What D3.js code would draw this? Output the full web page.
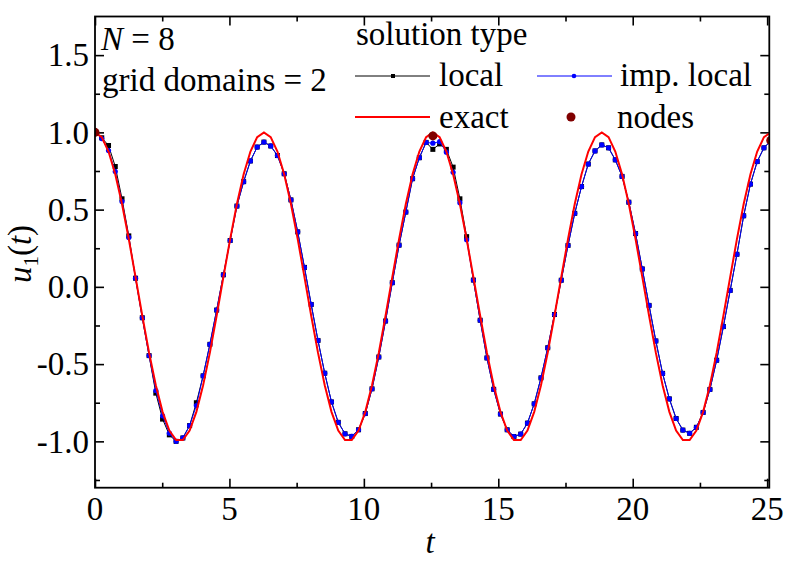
<!DOCTYPE html>
<html>
<head>
<meta charset="utf-8">
<script src="https://cdn.jsdelivr.net/npm/d3@7"></script>
<style>
  body { margin: 0; background: #fff; }
</style>
</head>
<body>
<script>
// sample points t_k, step 8*pi/100
let tVals = [0, 0.251, 0.503, 0.754, 1.005, 1.257, 1.508, 1.759, 2.011, 2.262,
  2.513, 2.765, 3.016, 3.267, 3.519, 3.770, 4.021, 4.273, 4.524, 4.775,
  5.027, 5.278, 5.529, 5.781, 6.032, 6.283, 6.535, 6.786, 7.037, 7.288,
  7.540, 7.791, 8.042, 8.294, 8.545, 8.796, 9.048, 9.299, 9.550, 9.802,
  10.053, 10.304, 10.556, 10.807, 11.058, 11.310, 11.561, 11.812, 12.064, 12.315,
  12.566, 12.818, 13.069, 13.320, 13.572, 13.823, 14.074, 14.326, 14.577, 14.828,
  15.080, 15.331, 15.582, 15.834, 16.085, 16.336, 16.588, 16.839, 17.090, 17.342,
  17.593, 17.844, 18.096, 18.347, 18.598, 18.850, 19.101, 19.352, 19.604, 19.855,
  20.106, 20.357, 20.609, 20.860, 21.111, 21.363, 21.614, 21.865, 22.117, 22.368,
  22.619, 22.871, 23.122, 23.373, 23.625, 23.876, 24.127, 24.379, 24.630, 24.881,
  25.133];

let exactVals = [1.000, 0.969, 0.876, 0.729, 0.536, 0.309, 0.063, -0.187, -0.426, -0.637,
  -0.809, -0.930, -0.992, -0.992, -0.930, -0.809, -0.637, -0.426, -0.187, 0.063,
  0.309, 0.536, 0.729, 0.876, 0.969, 1.000, 0.969, 0.876, 0.729, 0.536,
  0.309, 0.063, -0.187, -0.426, -0.637, -0.809, -0.930, -0.992, -0.992, -0.930,
  -0.809, -0.637, -0.426, -0.187, 0.063, 0.309, 0.536, 0.729, 0.876, 0.969,
  1.000, 0.969, 0.876, 0.729, 0.536, 0.309, 0.063, -0.187, -0.426, -0.637,
  -0.809, -0.930, -0.992, -0.992, -0.930, -0.809, -0.637, -0.426, -0.187, 0.063,
  0.309, 0.536, 0.729, 0.876, 0.969, 1.000, 0.969, 0.876, 0.729, 0.536,
  0.309, 0.063, -0.187, -0.426, -0.637, -0.809, -0.930, -0.992, -0.992, -0.930,
  -0.809, -0.637, -0.426, -0.187, 0.063, 0.309, 0.536, 0.729, 0.876, 0.969,
  1.000];

let localVals = [1.000, 0.965, 0.915, 0.779, 0.570, 0.330, 0.056, -0.200, -0.445, -0.688,
  -0.856, -0.958, -1.000, -0.978, -0.898, -0.750, -0.576, -0.372, -0.150, 0.078,
  0.300, 0.523, 0.681, 0.815, 0.905, 0.937, 0.912, 0.850, 0.732, 0.563,
  0.356, 0.126, -0.114, -0.347, -0.559, -0.745, -0.877, -0.951, -0.968, -0.925,
  -0.820, -0.660, -0.454, -0.221, 0.027, 0.270, 0.484, 0.700, 0.836, 0.935,
  0.890, 0.925, 0.890, 0.775, 0.570, 0.325, 0.044, -0.216, -0.460, -0.663,
  -0.823, -0.925, -0.969, -0.953, -0.882, -0.757, -0.589, -0.394, -0.179, 0.043,
  0.268, 0.476, 0.649, 0.795, 0.880, 0.919, 0.900, 0.822, 0.715, 0.548,
  0.345, 0.116, -0.120, -0.350, -0.560, -0.725, -0.852, -0.927, -0.948, -0.909,
  -0.813, -0.664, -0.475, -0.257, -0.023, 0.211, 0.460, 0.665, 0.811, 0.900,
  0.945];

let impLocalVals = [1.000, 0.960, 0.882, 0.746, 0.552, 0.320, 0.056, -0.200, -0.445, -0.671,
  -0.835, -0.947, -1.000, -0.978, -0.898, -0.768, -0.576, -0.372, -0.150, 0.078,
  0.300, 0.523, 0.681, 0.815, 0.905, 0.937, 0.912, 0.850, 0.732, 0.563,
  0.356, 0.126, -0.114, -0.347, -0.559, -0.745, -0.877, -0.951, -0.968, -0.925,
  -0.820, -0.660, -0.454, -0.221, 0.027, 0.270, 0.484, 0.700, 0.836, 0.935,
  0.930, 0.940, 0.872, 0.742, 0.545, 0.305, 0.044, -0.216, -0.460, -0.663,
  -0.823, -0.925, -0.969, -0.953, -0.882, -0.757, -0.589, -0.394, -0.179, 0.043,
  0.268, 0.476, 0.649, 0.795, 0.880, 0.919, 0.900, 0.822, 0.715, 0.548,
  0.345, 0.116, -0.120, -0.350, -0.560, -0.725, -0.852, -0.927, -0.948, -0.909,
  -0.813, -0.664, -0.475, -0.257, -0.023, 0.211, 0.460, 0.665, 0.811, 0.900,
  0.945];

let nodeT = [0, 12.566, 25.133];
let nodeVals = [1.000, 0.977, 0.947];

let xTickVals = [0, 5, 10, 15, 20, 25];
let xTickLabels = ["0", "5", "10", "15", "20", "25"];
let xMinorVals = [2.5, 7.5, 12.5, 17.5, 22.5];
let yTickVals = [-1.0, -0.5, 0.0, 0.5, 1.0, 1.5];
let yTickLabels = ["-1.0", "-0.5", "0.0", "0.5", "1.0", "1.5"];
let yMinorVals = [-1.25, -0.75, -0.25, 0.25, 0.75, 1.25];

let width = 793, height = 561;
let plotLeft = 95, plotRight = 769.3, plotTop = 16.5, plotBottom = 487.7;
let fontSize = 33;
let serif = "'Liberation Serif', 'DejaVu Serif', 'Times New Roman', Times, serif";

let svg = d3.select("body").append("svg")
  .attr("width", width)
  .attr("height", height)
  .attr("font-family", serif)
  .style("font-family", serif);

let x = d3.scaleLinear().domain([0, 25.08]).range([plotLeft, plotRight]);
let y = d3.scaleLinear().domain([-1.3, 1.75]).range([plotBottom, plotTop]);

svg.append("defs").append("clipPath")
  .attr("id", "plotClip")
  .append("rect")
  .attr("x", plotLeft).attr("y", plotTop)
  .attr("width", plotRight - plotLeft).attr("height", plotBottom - plotTop);

// axes, ticks pointing inward on all four sides
function drawAxis(axis, translate, vals, size) {
  svg.append("g")
    .attr("transform", translate)
    .call(axis.tickValues(vals).tickSize(size).tickFormat(""))
    .call(function(g) { g.select(".domain").remove(); })
    .selectAll("line")
    .attr("stroke", "#000")
    .attr("stroke-width", 1.6);
}

drawAxis(d3.axisTop(x), "translate(0," + plotBottom + ")", xTickVals, 9);
drawAxis(d3.axisTop(x), "translate(0," + plotBottom + ")", xMinorVals, 5);
drawAxis(d3.axisBottom(x), "translate(0," + plotTop + ")", xTickVals, 9);
drawAxis(d3.axisBottom(x), "translate(0," + plotTop + ")", xMinorVals, 5);
drawAxis(d3.axisRight(y), "translate(" + plotLeft + ",0)", yTickVals, 9);
drawAxis(d3.axisRight(y), "translate(" + plotLeft + ",0)", yMinorVals, 5);
drawAxis(d3.axisLeft(y), "translate(" + plotRight + ",0)", yTickVals, 9);
drawAxis(d3.axisLeft(y), "translate(" + plotRight + ",0)", yMinorVals, 5);

function addText(parent, px, py, str) {
  return parent.append("text")
    .attr("x", px).attr("y", py)
    .attr("font-family", serif)
    .attr("font-size", fontSize)
    .attr("fill", "#000")
    .text(str);
}

// tick labels
svg.append("g").selectAll("text")
  .data(xTickVals)
  .enter().append("text")
  .attr("x", function(d) { return x(d); })
  .attr("y", plotBottom + 32)
  .attr("text-anchor", "middle")
  .attr("font-family", serif)
  .attr("font-size", fontSize)
  .text(function(d, i) { return xTickLabels[i]; });

svg.append("g").selectAll("text")
  .data(yTickVals)
  .enter().append("text")
  .attr("x", plotLeft - 6)
  .attr("y", function(d) { return y(d); })
  .attr("dy", "0.34em")
  .attr("text-anchor", "end")
  .attr("font-family", serif)
  .attr("font-size", fontSize)
  .text(function(d, i) { return yTickLabels[i]; });

// axis titles
addText(svg, 430, 553, "t")
  .attr("text-anchor", "middle")
  .attr("font-style", "italic");

let yTitle = svg.append("text")
  .attr("transform", "translate(31,254) rotate(-90)")
  .attr("text-anchor", "middle")
  .attr("font-family", serif)
  .attr("font-size", fontSize);
yTitle.append("tspan").attr("font-style", "italic").text("u");
yTitle.append("tspan").attr("font-size", 21).attr("dy", 7).text("1");
yTitle.append("tspan").attr("dy", -7).text("(");
yTitle.append("tspan").attr("font-style", "italic").text("t");
yTitle.append("tspan").text(")");

// data
let plot = svg.append("g").attr("clip-path", "url(#plotClip)");

let line = d3.line()
  .x(function(d) { return x(d[0]); })
  .y(function(d) { return y(d[1]); });

let localPts = tVals.map(function(t, i) { return [t, localVals[i]]; });
let impPts = tVals.map(function(t, i) { return [t, impLocalVals[i]]; });
let exactPts = tVals.map(function(t, i) { return [t, exactVals[i]]; });
let nodePts = nodeT.map(function(t, i) { return [t, nodeVals[i]]; });

plot.append("path")
  .datum(localPts)
  .attr("d", line)
  .attr("fill", "none")
  .attr("stroke", "#000")
  .attr("stroke-width", 1);

plot.append("g").selectAll("rect")
  .data(localPts)
  .enter().append("rect")
  .attr("x", function(d) { return x(d[0]) - 2.5; })
  .attr("y", function(d) { return y(d[1]) - 2.5; })
  .attr("width", 5)
  .attr("height", 5)
  .attr("fill", "#000");

plot.append("path")
  .datum(impPts)
  .attr("d", line)
  .attr("fill", "none")
  .attr("stroke", "#0000ff")
  .attr("stroke-width", 1);

plot.append("g").selectAll("circle")
  .data(impPts)
  .enter().append("circle")
  .attr("cx", function(d) { return x(d[0]); })
  .attr("cy", function(d) { return y(d[1]); })
  .attr("r", 2.6)
  .attr("fill", "#0000ff");

plot.append("path")
  .datum(exactPts)
  .attr("d", line)
  .attr("fill", "none")
  .attr("stroke", "#ff0000")
  .attr("stroke-width", 2);

plot.append("g").selectAll("circle")
  .data(nodePts)
  .enter().append("circle")
  .attr("cx", function(d) { return x(d[0]); })
  .attr("cy", function(d) { return y(d[1]); })
  .attr("r", 4.5)
  .attr("fill", "#800000");

// frame
svg.append("rect")
  .attr("x", plotLeft).attr("y", plotTop)
  .attr("width", plotRight - plotLeft).attr("height", plotBottom - plotTop)
  .attr("fill", "none")
  .attr("stroke", "#000")
  .attr("stroke-width", 1.8);

// annotations
let nText = addText(svg, 101, 50, null);
nText.append("tspan").attr("font-style", "italic").text("N");
nText.append("tspan").text(" = 8");

addText(svg, 102, 91, "grid domains = 2");

// legend
let legend = svg.append("g");
addText(legend, 356, 45, "solution type");

legend.append("line")
  .attr("x1", 355).attr("x2", 430).attr("y1", 76).attr("y2", 76)
  .attr("stroke", "#000").attr("stroke-width", 1);
legend.append("rect")
  .attr("x", 391).attr("y", 74).attr("width", 4).attr("height", 4)
  .attr("fill", "#000");
addText(legend, 439, 86, "local");

legend.append("line")
  .attr("x1", 537).attr("x2", 612).attr("y1", 76).attr("y2", 76)
  .attr("stroke", "#0000ff").attr("stroke-width", 1);
legend.append("circle")
  .attr("cx", 574).attr("cy", 76).attr("r", 2.3)
  .attr("fill", "#0000ff");
addText(legend, 620, 86, "imp. local");

legend.append("line")
  .attr("x1", 355).attr("x2", 430).attr("y1", 117).attr("y2", 117)
  .attr("stroke", "#ff0000").attr("stroke-width", 2);
addText(legend, 439, 128, "exact");

legend.append("circle")
  .attr("cx", 571).attr("cy", 117).attr("r", 4.5)
  .attr("fill", "#800000");
addText(legend, 617, 128, "nodes");
</script>
</body>
</html>
